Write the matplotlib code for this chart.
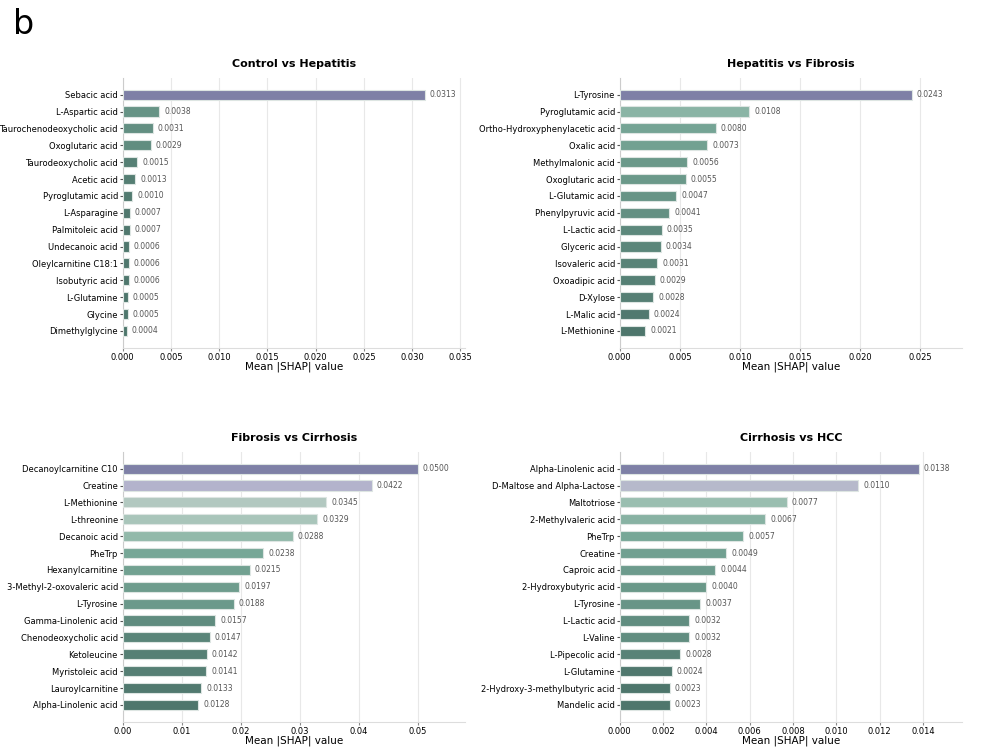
import numpy as np
import matplotlib.pyplot as plt
from matplotlib.colors import LinearSegmentedColormap

titles = ["Control vs Hepatitis", "Hepatitis vs Fibrosis", "Fibrosis vs Cirrhosis", "Cirrhosis vs HCC"]

names1 = ["Sebacic acid", "L-Aspartic acid", "Taurochenodeoxycholic acid", "Oxoglutaric acid",
          "Taurodeoxycholic acid", "Acetic acid", "Pyroglutamic acid", "L-Asparagine", "Palmitoleic acid",
          "Undecanoic acid", "Oleylcarnitine C18:1", "Isobutyric acid", "L-Glutamine", "Glycine", "Dimethylglycine"]
vals1 = [0.0313, 0.0038, 0.0031, 0.0029, 0.0015, 0.0013, 0.0010, 0.0007, 0.0007, 0.0006, 0.0006, 0.0006,
         0.0005, 0.0005, 0.0004]

names2 = ["L-Tyrosine", "Pyroglutamic acid", "Ortho-Hydroxyphenylacetic acid", "Oxalic acid", "Methylmalonic acid",
          "Oxoglutaric acid", "L-Glutamic acid", "Phenylpyruvic acid", "L-Lactic acid", "Glyceric acid",
          "Isovaleric acid", "Oxoadipic acid", "D-Xylose", "L-Malic acid", "L-Methionine"]
vals2 = [0.0243, 0.0108, 0.0080, 0.0073, 0.0056, 0.0055, 0.0047, 0.0041, 0.0035, 0.0034, 0.0031, 0.0029,
         0.0028, 0.0024, 0.0021]

names3 = ["Decanoylcarnitine C10", "Creatine", "L-Methionine", "L-threonine", "Decanoic acid", "PheTrp",
          "Hexanylcarnitine", "3-Methyl-2-oxovaleric acid", "L-Tyrosine", "Gamma-Linolenic acid",
          "Chenodeoxycholic acid", "Ketoleucine", "Myristoleic acid", "Lauroylcarnitine", "Alpha-Linolenic acid"]
vals3 = [0.0500, 0.0422, 0.0345, 0.0329, 0.0288, 0.0238, 0.0215, 0.0197, 0.0188, 0.0157, 0.0147, 0.0142,
         0.0141, 0.0133, 0.0128]

names4 = ["Alpha-Linolenic acid", "D-Maltose and Alpha-Lactose", "Maltotriose", "2-Methylvaleric acid", "PheTrp",
          "Creatine", "Caproic acid", "2-Hydroxybutyric acid", "L-Tyrosine", "L-Lactic acid", "L-Valine",
          "L-Pipecolic acid", "L-Glutamine", "2-Hydroxy-3-methylbutyric acid", "Mandelic acid"]
vals4 = [0.0138, 0.0110, 0.0077, 0.0067, 0.0057, 0.0049, 0.0044, 0.0040, 0.0037, 0.0032, 0.0032, 0.0028,
         0.0024, 0.0023, 0.0023]

xmax = [0.0355, 0.0285, 0.058, 0.0158]

cmap = LinearSegmentedColormap.from_list("shap", [
    (0.0, "#4e766c"), (0.1, "#669385"), (0.3, "#78a898"), (0.5, "#a0c2b4"),
    (0.65, "#c0ccca"), (0.8, "#b2b2cc"), (1.0, "#7e80a6")])

fig = plt.figure(figsize=(9.98, 7.48), dpi=100)
positions = [[0.123, 0.535, 0.343, 0.361], [0.621, 0.535, 0.343, 0.361],
             [0.123, 0.035, 0.343, 0.361], [0.621, 0.035, 0.343, 0.361]]
data = [(names1, vals1), (names2, vals2), (names3, vals3), (names4, vals4)]

for k in range(4):
    ax = fig.add_axes(positions[k])
    names, vals = data[k]
    vals = np.array(vals)
    y = np.arange(len(vals))
    norm = (vals - vals.min()) / (vals.max() - vals.min())
    ax.barh(y, vals, height=0.6, color=cmap(norm), edgecolor="#dde5e2", linewidth=0.8, zorder=3)
    for yi, v in zip(y, vals):
        ax.text(v + xmax[k] * 0.015, yi, "%.4f" % v, va="center", fontsize=5.5, color="#555555")
    ax.set_yticks(y)
    ax.set_yticklabels(names, fontsize=6)
    ax.set_ylim(len(vals), -1.0)
    ax.set_xlim(0, xmax[k])
    ax.tick_params(axis="x", labelsize=6, length=2, pad=1.5, color="#888888")
    ax.tick_params(axis="y", length=2, pad=1.5, color="#555555")
    ax.grid(axis="x", color="#e8e8e8", linewidth=0.8, zorder=0)
    for s in ["top", "right"]:
        ax.spines[s].set_visible(False)
    ax.spines["left"].set_color("#cccccc")
    ax.spines["bottom"].set_color("#dddddd")
    ax.set_xlabel("Mean |SHAP| value", fontsize=7.5, labelpad=0)
    ax.set_title(titles[k], fontsize=8, fontweight="bold", pad=8)

fig.text(0.013, 0.955, "b", fontsize=24)
fig.savefig("out.png", dpi=100)
